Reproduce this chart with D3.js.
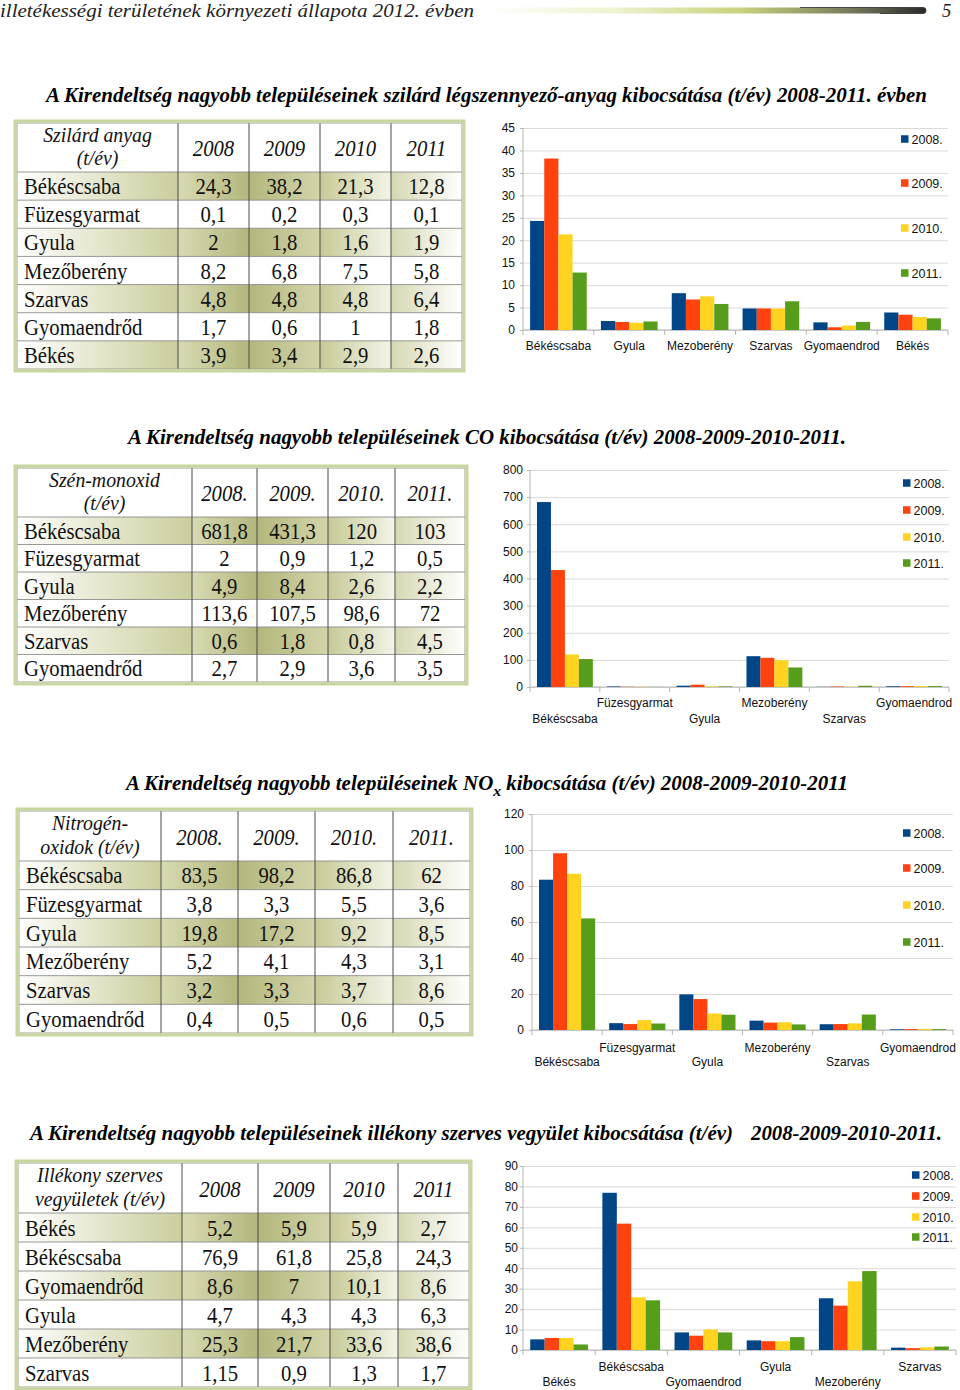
<!DOCTYPE html>
<html><head><meta charset="utf-8">
<script src="https://cdn.jsdelivr.net/npm/d3@7"></script>
<style>body{margin:0;background:#fff}svg{display:block}</style>
</head><body>
<svg id="page" width="960" height="1390"></svg>
<script>
// ---------- DATA ----------
const years = ["2008","2009","2010","2011"];
const legendLabels = ["2008.","2009.","2010.","2011."];
const seriesColors = ["#004586","#ff420e","#ffd320","#579d1c"];

// 1. Szilárd anyag
const solidHead = ["Szilárd anyag","(t/év)"];
const solidYears = ["2008","2009","2010","2011"];
const solidRows = ["Békéscsaba","Füzesgyarmat","Gyula","Mezőberény","Szarvas","Gyomaendrőd","Békés"];
const solidValues = [[24.3,38.2,21.3,12.8],[0.1,0.2,0.3,0.1],[2,1.8,1.6,1.9],[8.2,6.8,7.5,5.8],[4.8,4.8,4.8,6.4],[1.7,0.6,1,1.8],[3.9,3.4,2.9,2.6]];
const solidChartCats = ["Békéscsaba","Gyula","Mezoberény","Szarvas","Gyomaendrod","Békés"];
const solidChartRows = [0,2,3,4,5,6];
const solidTicks = [0,5,10,15,20,25,30,35,40,45];

// 2. CO
const coHead = ["Szén-monoxid","(t/év)"];
const coYears = ["2008.","2009.","2010.","2011."];
const coRows = ["Békéscsaba","Füzesgyarmat","Gyula","Mezőberény","Szarvas","Gyomaendrőd"];
const coValues = [[681.8,431.3,120,103],[2,0.9,1.2,0.5],[4.9,8.4,2.6,2.2],[113.6,107.5,98.6,72],[0.6,1.8,0.8,4.5],[2.7,2.9,3.6,3.5]];
const coChartCats = ["Békéscsaba","Füzesgyarmat","Gyula","Mezoberény","Szarvas","Gyomaendrod"];
const coTicks = [0,100,200,300,400,500,600,700,800];

// 3. NOx
const noxHead = ["Nitrogén-","oxidok (t/év)"];
const noxYears = ["2008.","2009.","2010.","2011."];
const noxRows = ["Békéscsaba","Füzesgyarmat","Gyula","Mezőberény","Szarvas","Gyomaendrőd"];
const noxValues = [[83.5,98.2,86.8,62],[3.8,3.3,5.5,3.6],[19.8,17.2,9.2,8.5],[5.2,4.1,4.3,3.1],[3.2,3.3,3.7,8.6],[0.4,0.5,0.6,0.5]];
const noxChartCats = ["Békéscsaba","Füzesgyarmat","Gyula","Mezoberény","Szarvas","Gyomaendrod"];
const noxTicks = [0,20,40,60,80,100,120];

// 4. VOC
const vocHead = ["Illékony szerves","vegyületek (t/év)"];
const vocYears = ["2008","2009","2010","2011"];
const vocRows = ["Békés","Békéscsaba","Gyomaendrőd","Gyula","Mezőberény","Szarvas"];
const vocValues = [[5.2,5.9,5.9,2.7],[76.9,61.8,25.8,24.3],[8.6,7,10.1,8.6],[4.7,4.3,4.3,6.3],[25.3,21.7,33.6,38.6],[1.15,0.9,1.3,1.7]];
const vocChartCats = ["Békés","Békéscsaba","Gyomaendrod","Gyula","Mezoberény","Szarvas"];
const vocTicks = [0,10,20,30,40,50,60,70,80,90];

const pageHeader = "illetékességi területének környezeti állapota 2012. évben";
const pageNumber = "5";

// ---------- DRAWING ----------
const svg = d3.select("#page");
const defs = svg.append("defs");
const SERIF = "'Liberation Serif','Times New Roman',serif";
const SANS = "'Liberation Sans',Arial,sans-serif";
const fmt = v => String(v).replace(".", ",");

const cellGrad = [["#ffffff","#cbce9c"],["#d8dab2","#b3b77c"],["#b3b77c","#d3d5aa"],["#c7ca96","#f3f4e8"],["#d6d8b2","#ffffff"]];
cellGrad.forEach((c,i)=>{
  const lg = defs.append("linearGradient").attr("id","cg"+i);
  lg.append("stop").attr("offset","0%").attr("stop-color",c[0]);
  lg.append("stop").attr("offset","100%").attr("stop-color",c[1]);
});
const hb = defs.append("linearGradient").attr("id","hbar");
[["0%","#ffffff"],["30%","#eef2cf"],["58%","#c9d27c"],["82%","#7b7e5e"],["100%","#2a2a2a"]].forEach(s=>
  hb.append("stop").attr("offset",s[0]).attr("stop-color",s[1]));

// page header
svg.append("text").attr("x",0).attr("y",17).attr("font-family",SERIF).attr("font-style","italic")
  .attr("font-size",18.5).attr("fill","#222").attr("textLength",474).attr("lengthAdjust","spacingAndGlyphs").text(pageHeader);
svg.append("path").attr("d","M485,7.5 L923,7.5 A3,3 0 0 1 923,13.5 L485,13.5 Z").attr("fill","url(#hbar)");
svg.append("path").attr("d","M800,7.5 L923,7.5 A3,3 0 0 1 923,13.5 L880,13.5").attr("fill","none").attr("stroke","#2a2a2a").attr("stroke-width",0.8);
svg.append("text").attr("x",942).attr("y",17).attr("font-family",SERIF).attr("font-style","italic")
  .attr("font-size",18.5).attr("fill","#222").text(pageNumber);

function title(x, y, w, parts) {
  const t = svg.append("text").attr("x",x).attr("y",y).attr("font-family",SERIF).attr("font-style","italic")
    .attr("font-weight","bold").attr("font-size",20).attr("fill","#000")
    .attr("textLength",w).attr("lengthAdjust","spacingAndGlyphs");
  parts.forEach(p=>{
    const ts = t.append("tspan").text(p.t);
    if (p.dy) ts.attr("dy",p.dy);
    if (p.fs) ts.attr("font-size",p.fs);
  });
}
title(46,102,881,[{t:"A Kirendeltség nagyobb településeinek szilárd légszennyező-anyag kibocsátása (t/év) 2008-2011. évben"}]);
title(128,444,718,[{t:"A Kirendeltség nagyobb településeinek CO kibocsátása (t/év) 2008-2009-2010-2011."}]);
title(126,790,722,[{t:"A Kirendeltség nagyobb településeinek NO"},{t:"x",dy:6,fs:15},{t:" kibocsátása (t/év) 2008-2009-2010-2011",dy:-6}]);
title(30,1140,703,[{t:"A Kirendeltség nagyobb településeinek illékony szerves vegyület kibocsátása (t/év)"}]);
title(751,1140,191,[{t:"2008-2009-2010-2011."}]);

function tText(g, x, y, s, anchor, italic, size) {
  g.append("text").attr("transform",`translate(${x},${y}) scale(0.9,1)`)
    .attr("text-anchor",anchor).attr("font-family",SERIF).attr("font-size",size||23)
    .attr("font-style",italic?"italic":"normal").attr("fill","#111").text(s);
}

function drawTable(cfg) {
  const g = svg.append("g");
  const cols = cfg.cols, nR = cfg.rows.length;
  const rh = (cfg.bottom - cfg.hdrBottom) / nR;
  cfg.rows.forEach((r,i)=>{
    const y0 = cfg.hdrBottom + i*rh;
    if (i%2===0) for (let c=0;c<5;c++)
      g.append("rect").attr("x",cols[c]).attr("y",y0).attr("width",cols[c+1]-cols[c]).attr("height",rh).attr("fill",`url(#cg${c})`);
  });
  cfg.rows.forEach((r,i)=>{
    const yb = cfg.hdrBottom + i*rh + rh/2 + 8;
    tText(g, cols[0]+7, yb, r, "start", false);
    cfg.values[i].forEach((v,j)=> tText(g, (cols[j+1]+cols[j+2])/2, yb, fmt(v), "middle", false));
  });
  const H = cfg.hdrBottom - cfg.top;
  tText(g, (cols[0]+cols[1])/2, cfg.top+0.38*H, cfg.head[0], "middle", true, 22);
  tText(g, (cols[0]+cols[1])/2, cfg.top+0.86*H, cfg.head[1], "middle", true, 22);
  cfg.years.forEach((yl,j)=> tText(g, (cols[j+1]+cols[j+2])/2, cfg.top+0.68*H, yl, "middle", true));
  for (let i=0;i<nR;i++) {
    const yy = cfg.hdrBottom + i*rh;
    g.append("line").attr("x1",cols[0]).attr("x2",cols[5]).attr("y1",yy).attr("y2",yy).attr("stroke","#8d8d8d").attr("stroke-width",0.9);
  }
  for (let c=1;c<5;c++)
    g.append("line").attr("x1",cols[c]).attr("x2",cols[c]).attr("y1",cfg.top).attr("y2",cfg.bottom).attr("stroke","#4d4d4d").attr("stroke-width",1);
  g.append("rect").attr("x",cols[0]).attr("y",cfg.top).attr("width",cols[5]-cols[0]).attr("height",cfg.bottom-cfg.top)
    .attr("fill","none").attr("stroke","#9a9a8a").attr("stroke-width",0.9);
  g.append("rect").attr("x",cols[0]-2).attr("y",cfg.top-2).attr("width",cols[5]-cols[0]+4).attr("height",cfg.bottom-cfg.top+4)
    .attr("fill","none").attr("stroke","#c8d79d").attr("stroke-width",3);
}

function drawChart(cfg) {
  const g = svg.append("g");
  const y = d3.scaleLinear().domain([0,cfg.max]).range([cfg.y0,cfg.yTop]);
  const x0 = d3.scaleBand().domain(cfg.cats).range([cfg.left,cfg.right]);
  const bw = x0.bandwidth();
  const x1 = d3.scaleBand().domain(years).range([bw*0.1,bw*0.9]);
  const W = cfg.right - cfg.left;
  const ya = g.append("g").attr("transform",`translate(${cfg.left},0)`)
    .call(d3.axisLeft(y).tickValues(cfg.ticks).tickSize(-W).tickSizeOuter(0).tickPadding(cfg.pad));
  ya.select(".domain").remove();
  ya.selectAll(".tick line").attr("stroke","#dadada");
  ya.selectAll(".tick text").attr("font-family",SANS).attr("font-size",12).attr("fill","#111");
  ya.selectAll(".tick").append("line").attr("x1",-3).attr("x2",0).attr("stroke","#b5b5b5");
  g.append("line").attr("x1",cfg.left).attr("x2",cfg.left).attr("y1",cfg.yTop).attr("y2",cfg.y0).attr("stroke","#b5b5b5");
  g.append("line").attr("x1",cfg.left).attr("x2",cfg.right).attr("y1",cfg.y0).attr("y2",cfg.y0).attr("stroke","#b5b5b5");
  d3.range(cfg.cats.length+1).forEach(i=>{
    const xx = cfg.left + i*bw;
    g.append("line").attr("x1",xx).attr("x2",xx).attr("y1",cfg.y0).attr("y2",cfg.y0+5).attr("stroke","#b5b5b5");
  });
  const grp = g.selectAll("g.cat").data(cfg.cats.map((c,i)=>({c, v: cfg.vals[i]}))).join("g")
    .attr("class","cat").attr("transform",d=>`translate(${x0(d.c)},0)`);
  grp.selectAll("rect").data(d=>d.v.map((v,j)=>({v, yr: years[j], j}))).join("rect")
    .attr("x",d=>x1(d.yr)).attr("width",x1.bandwidth())
    .attr("y",d=>y(d.v)).attr("height",d=>cfg.y0 - y(d.v)).attr("fill",d=>seriesColors[d.j]);
  const xa = g.append("g").attr("transform",`translate(0,${cfg.y0})`).call(d3.axisBottom(x0).tickSize(0));
  xa.select(".domain").remove();
  xa.selectAll(".tick text").attr("font-family",SANS).attr("font-size",12).attr("fill","#111").attr("dy",0)
    .attr("y",(d,i)=> (cfg.labelY.length===1 ? cfg.labelY[0] : (i%2===0 ? cfg.labelY[1] : cfg.labelY[0])) - cfg.y0);
  legendLabels.forEach((l,j)=>{
    g.append("rect").attr("x",cfg.legX).attr("y",cfg.legY[j]-3.75).attr("width",7.5).attr("height",7.5).attr("fill",seriesColors[j]);
    g.append("text").attr("x",cfg.legX+10.5).attr("y",cfg.legY[j]+4.5).attr("font-family",SANS).attr("font-size",12.5).attr("fill","#111").text(l);
  });
}

drawTable({cols:[17,178,249,320,391,462], top:123, hdrBottom:172, bottom:369, head:solidHead, years:solidYears, rows:solidRows, values:solidValues});
drawChart({left:523,right:948,y0:330,yTop:128,max:45,ticks:solidTicks,pad:8,cats:solidChartCats,
  vals:solidChartRows.map(i=>solidValues[i]),labelY:[350],legX:901,legY:[139,183,228,273]});

drawTable({cols:[17,192,257,328,395,465], top:468, hdrBottom:517, bottom:682, head:coHead, years:coYears, rows:coRows, values:coValues});
drawChart({left:530,right:949,y0:687,yTop:470,max:800,ticks:coTicks,pad:7,cats:coChartCats,
  vals:coValues,labelY:[707,723],legX:903,legY:[483,510,537,563]});

drawTable({cols:[19,161,238,315,393,470], top:811, hdrBottom:861, bottom:1033, head:noxHead, years:noxYears, rows:noxRows, values:noxValues});
drawChart({left:532,right:953,y0:1030,yTop:814,max:120,ticks:noxTicks,pad:8,cats:noxChartCats,
  vals:noxValues,labelY:[1052,1066],legX:903,legY:[833,868,905,942]});

drawTable({cols:[18,182,258,330,398,469], top:1163, hdrBottom:1213, bottom:1387, head:vocHead, years:vocYears, rows:vocRows, values:vocValues});
drawChart({left:523,right:956,y0:1350,yTop:1166,max:90,ticks:vocTicks,pad:5,cats:vocChartCats,
  vals:vocValues,labelY:[1371,1386],legX:912,legY:[1175,1196,1217,1237]});
</script>
</body></html>
